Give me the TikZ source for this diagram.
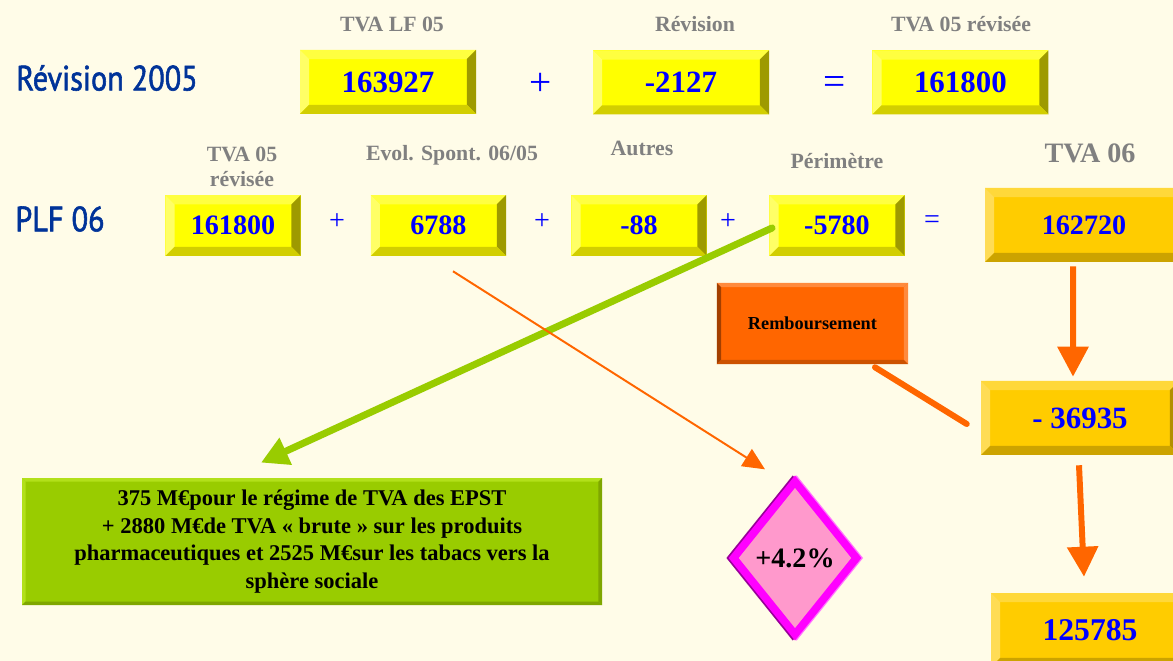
\documentclass[tikz,border=0pt]{standalone}
\usepackage{fontspec}
\setmainfont{Liberation Serif}
\newfontfamily\titlefont[FakeStretch=0.86,FakeBold=1.6]{PT Sans}
\usetikzlibrary{arrows.meta}
\usetikzlibrary{shapes.geometric}

\definecolor{bgcream}{HTML}{FFFCE8}
\definecolor{yFace}{HTML}{FFFF00}
\definecolor{yTop}{HTML}{FFFF40}
\definecolor{yLeft}{HTML}{FFFF66}
\definecolor{yRight}{HTML}{9E9A00}
\definecolor{yBot}{HTML}{D2CE00}
\definecolor{gFace}{HTML}{FFCC00}
\definecolor{gTop}{HTML}{FFD83A}
\definecolor{gLeft}{HTML}{FFDC55}
\definecolor{gRight}{HTML}{B38F00}
\definecolor{gBot}{HTML}{CCA300}
\definecolor{oFace}{HTML}{FF6600}
\definecolor{oLight}{HTML}{FF8A3D}
\definecolor{oLeft}{HTML}{A33F00}
\definecolor{oBot}{HTML}{CC5200}
\definecolor{limeFace}{HTML}{99CC00}
\definecolor{limeLight}{HTML}{B2E01A}
\definecolor{limeDark}{HTML}{7FA600}
\definecolor{numblue}{HTML}{0000FF}
\definecolor{titleblue}{HTML}{003399}
\definecolor{labelgray}{HTML}{808080}
\definecolor{pinkfill}{HTML}{FF99CC}
\definecolor{magborder}{HTML}{FF00FF}
\definecolor{magdark}{HTML}{990099}
\definecolor{maglight}{HTML}{FF77FF}

% bevelled frame drawn inside a node: width, top, left, right, bottom
\newcommand{\bevelpic}[5]{%
  \fill[#2] (path picture bounding box.north west) -- (path picture bounding box.north east)
    -- ([xshift=-#1,yshift=-#1]path picture bounding box.north east)
    -- ([xshift=#1,yshift=-#1]path picture bounding box.north west) -- cycle;
  \fill[#3] (path picture bounding box.north west) -- ([xshift=#1,yshift=-#1]path picture bounding box.north west)
    -- ([xshift=#1,yshift=#1]path picture bounding box.south west) -- (path picture bounding box.south west) -- cycle;
  \fill[#4] (path picture bounding box.north east) -- (path picture bounding box.south east)
    -- ([xshift=-#1,yshift=#1]path picture bounding box.south east)
    -- ([xshift=-#1,yshift=-#1]path picture bounding box.north east) -- cycle;
  \fill[#5] (path picture bounding box.south west) -- (path picture bounding box.south east)
    -- ([xshift=-#1,yshift=#1]path picture bounding box.south east)
    -- ([xshift=#1,yshift=#1]path picture bounding box.south west) -- cycle;
}

\begin{document}
\begin{tikzpicture}
	\tikzstyle{ybox}=[fill=yFace,path picture={\bevelpic{6.5pt}{yTop}{yLeft}{yRight}{yBot}},inner sep=0pt,minimum width=4.4cm,minimum height=1.6cm,text=numblue,font=\fontsize{22}{26}\selectfont\bfseries]
	\tikzstyle{ysmall}=[ybox,minimum width=3.38cm,minimum height=1.52cm,font=\fontsize{20}{24}\selectfont\bfseries]
	\tikzstyle{gbox}=[fill=gFace,path picture={\bevelpic{6.5pt}{gTop}{gLeft}{gRight}{gBot}},inner sep=0pt,minimum width=4.95cm,minimum height=1.85cm,text=numblue,font=\fontsize{22}{26}\selectfont\bfseries]
	\tikzstyle{obox}=[fill=oFace,path picture={\bevelpic{3pt}{oLight}{oLeft}{oLight}{oBot}},inner sep=0pt,minimum width=4.78cm,minimum height=2.03cm,font=\fontsize{13}{16}\selectfont\bfseries]
	\tikzstyle{notebox}=[fill=limeFace,path picture={\bevelpic{2.5pt}{limeLight}{limeLight}{limeDark}{limeDark}},inner sep=0pt,minimum width=14.5cm,minimum height=3.175cm,align=center,font=\fontsize{16}{19.6}\selectfont\bfseries]
	\tikzstyle{head}=[text=labelgray,align=center,font=\fontsize{15.5}{17.7}\selectfont\bfseries]
	\tikzstyle{op}=[text=numblue,font=\fontsize{20}{24}\selectfont]
	\tikzstyle{bigop}=[text=numblue,font=\fontsize{28}{30}\selectfont]
	\tikzstyle{title}=[text=titleblue,font=\titlefont\fontsize{25}{30}\selectfont]
	\tikzstyle{thickarrow}=[draw=oFace,line width=4.25pt,-{Triangle[width=0.75cm,length=0.75cm]}]
	\tikzstyle{greenarrow}=[draw=limeFace,line width=5pt,line cap=round,-{Triangle[width=0.7cm,length=0.68cm]}]
	\tikzstyle{thinarrow}=[draw=oFace,line width=1.4pt,-{Triangle[width=0.5cm,length=0.55cm]}]
	
	\useasboundingbox (0,0) rectangle (29.325,-16.525);
	\fill[bgcream] (0,0) rectangle (29.325,-16.525);
	\clip (0,0) rectangle (29.325,-16.525);
	
	\node[title](rev05) at (2.675,-1.95){Révision 2005};
	\node[title](plf06) at (1.5,-5.475){PLF 06};
	
	\node[head](hlf) at (9.8,-0.6){TVA LF 05};
	\node[head](hrev) at (17.375,-0.6){Révision};
	\node[head](hrevis) at (24.025,-0.6){TVA 05 révisée};
	
	\node[ybox](lf05) at (9.7,-2.05){163927};
	\node[bigop](p1) at (13.525,-2.1){+};
	\node[ybox](rev) at (17.025,-2.06){-2127};
	\node[bigop](e1) at (20.875,-2.15){=};
	\node[ybox](tva05) at (24.01,-2.06){161800};
	
	\node[head](h05) at (6.05,-4.18){TVA 05\\révisée};
	\node[head](hevol) at (11.3,-3.875){Evol. Spont. 06/05};
	\node[head](haut) at (16.05,-3.7){Autres};
	\node[head](hper) at (20.925,-4.025){Périmètre};
	\node[head,font=\fontsize{20}{24}\selectfont\bfseries](h06) at (27.25,-3.825){TVA 06};
	
	\node[ysmall](b05) at (5.825,-5.64){161800};
	\node[op](p2) at (8.425,-5.55){+};
	\node[ysmall](evol) at (10.96,-5.64){6788};
	\node[op](p3) at (13.55,-5.55){+};
	\node[ysmall](aut) at (15.975,-5.64){-88};
	\node[op](p4) at (18.2,-5.55){+};
	\node[ysmall](per) at (20.925,-5.64){-5780};
	\node[op](e2) at (23.3,-5.55){=};
	\node[gbox,font=\fontsize{20}{24}\selectfont\bfseries](tva06) at (27.1,-5.625){162720};
	
	\node[obox](remb) at (20.31,-8.09){Remboursement};
	\node[gbox](remb36) at (27.0,-10.45){- 36935};
	\node[gbox,font=\fontsize{22.5}{26}\selectfont\bfseries](tva06b) at (27.25,-15.75){125785};
	
	\node[notebox](note) at (7.8,-13.54){375 M€pour le régime de TVA des EPST\\+ 2880 M€de TVA « brute » sur les produits\\pharmaceutiques et 2525 M€sur les tabacs vers la\\sphère sociale};
	
	\node[diamond,fill=pinkfill,draw=magborder,line width=5.5pt,inner sep=0pt,minimum width=3.15cm,minimum height=3.9cm,
		preaction={draw=magdark,line width=5.5pt,transform canvas={xshift=-1.6pt}},
		preaction={draw=maglight,line width=5.5pt,transform canvas={xshift=1.2pt}},
		font=\fontsize{20}{24}\selectfont\bfseries](pct) at (19.875,-13.95){+4.2\%};
	
	\draw[thickarrow] ([xshift=-0.275cm,yshift=-0.1cm]tva06.south) -- ([xshift=-0.175cm,yshift=0.1cm]remb36.north);
	\draw[thickarrow] ([xshift=-0.025cm,yshift=-0.25cm]remb36.south) -- ([xshift=-0.15cm,yshift=0.4cm]tva06b.north);
	
	\draw[draw=oFace,line width=4.3pt,line cap=round] ([xshift=1.565cm,yshift=-0.07cm]remb.south) -- ([xshift=-0.35cm,yshift=-0.15cm]remb36.west);
	
	\draw[greenarrow] ([xshift=-1.625cm,yshift=-0.06cm]per.center) -- ([xshift=-1.275cm,yshift=0.38cm]note.north);
	\draw[thinarrow] ([xshift=0.365cm,yshift=-0.375cm]evol.south) -- ([xshift=-0.75cm,yshift=0.17cm]pct.north);
\end{tikzpicture}
\end{document}
